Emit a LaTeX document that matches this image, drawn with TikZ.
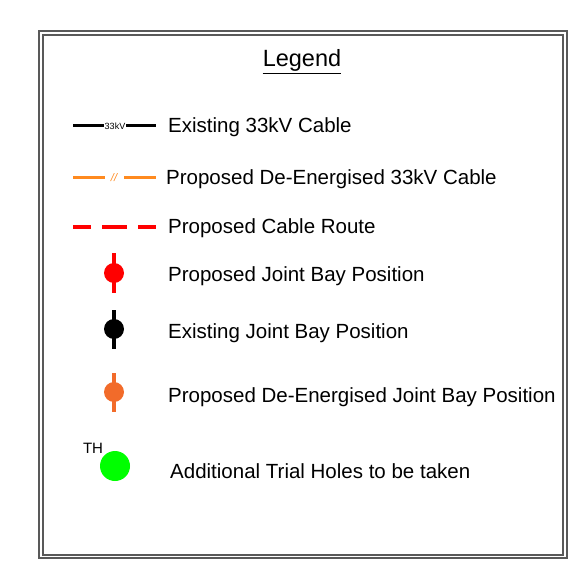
\documentclass[tikz,border=0pt]{standalone}
\usepackage{fontspec}
\setmainfont{Liberation Sans}
\definecolor{cableorange}{HTML}{FF8A1F}
\definecolor{bayorange}{HTML}{F26B2A}
\definecolor{holegreen}{HTML}{00FF00}
\tikzset{
  legtext/.style={anchor=west, inner sep=0pt, font=\fontsize{20.5}{24}\selectfont},
  frameline/.style={draw=black!65, line width=1.3pt},
  baystem/.style={line width=4pt},
}
\begin{document}
\begin{tikzpicture}[x=1pt,y=-1pt]
	\useasboundingbox (0,0) rectangle (573,585);
	\draw[frameline] (39,31) rectangle (567,558);
	\draw[frameline] (43,35) rectangle (563,555);
	\node[inner sep=0pt, font=\fontsize{23.5}{26}\selectfont] (title) at (302,60) {Legend};
	\draw[line width=1pt] ([yshift=-2pt]title.south west) -- ([yshift=-2pt]title.south east);

	\node[inner sep=0pt, font=\fontsize{9}{10}\selectfont] (kv) at (115,126) {33kV};
	\draw[line width=3pt] (73,126) -- ([xshift=-1pt]kv.west);
	\draw[line width=3pt] ([xshift=1pt]kv.east) -- (156,126);
	\node[legtext] (existing) at (168,127) {Existing 33kV Cable};

	\node[inner sep=0pt, text=cableorange, font=\fontsize{11}{12}\selectfont\itshape] (slash) at (114,178) {//};
	\draw[cableorange, line width=3pt] (73,178) -- (105,178);
	\draw[cableorange, line width=3pt] (124,178) -- (156,178);
	\node[legtext] (deenergised) at (166,179) {Proposed De-Energised 33kV Cable};

	\draw[red, line width=4pt, dash pattern=on 18pt off 11pt on 25pt off 11pt] (73,227) -- (156,227);
	\node[legtext] (route) at (168,228) {Proposed Cable Route};

	\draw[red, baystem] (114,253) -- (114,293);
	\fill[red] (114,273) circle[radius=10pt];
	\node[legtext] (propbay) at (168,276) {Proposed Joint Bay Position};

	\draw[baystem] (114,310) -- (114,349);
	\fill (114,329) circle[radius=10pt];
	\node[legtext] (existbay) at (168,333) {Existing Joint Bay Position};

	\draw[bayorange, baystem] (114,373) -- (114,412);
	\fill[bayorange] (114,392) circle[radius=10pt];
	\node[legtext] (deenbay) at (168,397) {Proposed De-Energised Joint Bay Position};

	\fill[holegreen] (115,466) circle[radius=15pt];
	\node[inner sep=0pt, font=\fontsize{15}{17}\selectfont] (th) at (93,448) {TH};
	\node[legtext] (trial) at (170,471) {Additional Trial Holes to be taken};
\end{tikzpicture}
\end{document}
